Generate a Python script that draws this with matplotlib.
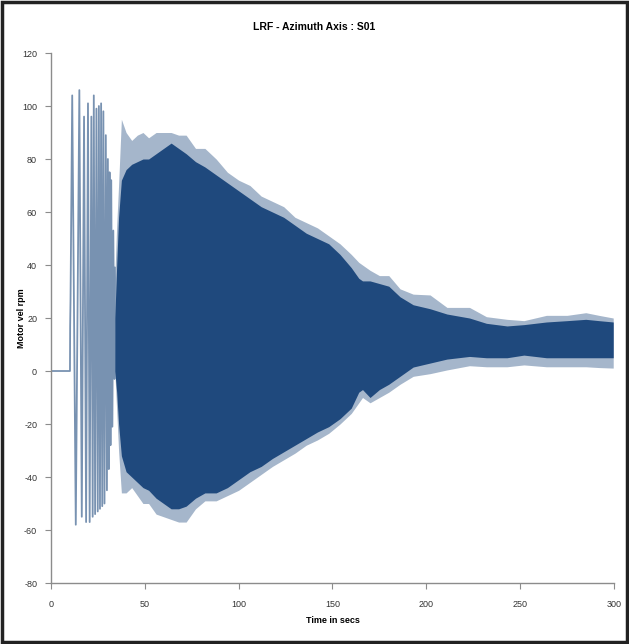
import numpy as np
import matplotlib.pyplot as plt
from matplotlib.patches import Rectangle

plt.rcParams['font.family'] = ['Liberation Sans', 'DejaVu Sans']
plt.rcParams['axes.unicode_minus'] = False

# start-up part: flat, then single swings (time s, rpm)
t_early = [0, 10.1, 10.2, 10.4, 11.3, 13.2, 15.1, 16.4, 17.6, 18.7, 19.7, 20.6, 21.5, 22.2,
           22.8, 23.5, 24.2, 24.9, 25.5, 26.1, 26.7, 27.3, 27.9, 28.5, 29.2, 29.8, 30.3,
           30.8, 31.2, 31.7, 32.1, 32.7, 33.2, 33.8, 34.0]
v_early = [0, 0, 17, 27, 104, -58, 106, -55, 96, -57, 101, -57, 96, -55,
           104, -54, 99, -53, 100, -52, 101, -51, 98, -50, 89, -45, 80,
           -37, 75, -28, 72, -21, 53, -3, 39]

# dense part: envelopes
t_env = [34.0, 35.0, 36.0, 37.5, 40, 43, 46, 49, 52, 56, 60, 64, 68, 72, 77, 82, 88, 94,
         100, 106, 112, 118, 124, 130, 136, 142, 148, 154, 160, 164, 166, 170, 175, 180,
         186, 193, 202, 211, 223, 232, 243, 252, 264, 275, 285, 292, 299.6]
up_outer = [35, 55, 70, 95, 90, 87, 89, 90, 88, 90, 90, 90, 89, 89, 84, 84, 80, 75,
            72, 70, 66, 64, 62, 58, 56, 54, 51, 48, 44, 41, 40, 38, 36, 36,
            31, 29, 28.7, 24, 24, 20.5, 19.5, 19, 21, 21, 22, 21, 20]
up_core = [20, 40, 58, 72, 76, 78, 79, 80, 80, 82, 84, 86, 84, 82, 79, 77, 74, 71,
           68, 65, 62, 60, 58, 55, 52, 50, 48, 44, 39, 35, 34, 34, 33, 32,
           28, 25, 23.5, 21.5, 20, 18, 17, 17.5, 18.5, 19, 19.5, 19, 18.5]
lo_core = [0, -8, -20, -32, -38, -40, -42, -44, -45, -48, -50, -52, -52, -51, -48, -46, -46, -44,
           -41, -38, -36, -33, -30.5, -28, -25.5, -23, -21, -18, -14, -8, -7, -10, -7, -5,
           -2, 1.5, 3, 4.5, 5.5, 5, 5, 6, 5, 5, 5, 5, 5]
lo_outer = [0, -15, -30, -46, -46, -44, -47, -50, -50, -54, -55, -56, -57, -57, -52, -49, -49, -47,
            -45, -42, -39, -36, -33.5, -31, -28, -26, -23.5, -20, -16, -12, -10, -12, -10, -8,
            -5, -2, -1, 0.4, 2, 1.6, 1.6, 2.3, 1.6, 1.6, 1.6, 1.3, 1.1]

navy = '#1f497d'
grey = '#8c8c8c'

fig = plt.figure(figsize=(6.29, 6.44), dpi=100)
ax = fig.add_axes([0.0811, 0.0947, 0.895, 0.823])

ax.plot(t_early, v_early, color=navy, lw=1.3, alpha=0.6)
ax.fill_between(t_env, lo_outer, up_outer, color=navy, alpha=0.4, lw=0)
ax.fill_between(t_env, lo_core, up_core, color=navy, lw=0)

ax.set_xlim(0, 300)
ax.set_ylim(-80, 120)
ax.set_xticks(np.arange(0, 301, 50))
ax.set_yticks(np.arange(-80, 121, 20))
for s in ['top', 'right']:
    ax.spines[s].set_visible(False)
for s in ['left', 'bottom']:
    ax.spines[s].set_color(grey)
    ax.spines[s].set_linewidth(1)
ax.tick_params(direction='out', length=4, color=grey, labelsize=6.5, labelcolor='#333333')
ax.tick_params(axis='x', pad=8)
ax.tick_params(axis='y', pad=6)

fig.text(0.5, 0.958, 'LRF - Azimuth Axis : S01', ha='center', va='center',
         fontsize=7.5, fontweight='bold')
fig.text(0.034, 0.506, 'Motor vel rpm', ha='center', va='center', rotation=90,
         fontsize=6.5, fontweight='bold')
fig.text(0.529, 0.037, 'Time in secs', ha='center', va='center',
         fontsize=6.5, fontweight='bold')

fig.patches.append(Rectangle((0.003, 0.003), 0.994, 0.994, transform=fig.transFigure,
                             fill=False, edgecolor='#222222', lw=2.5))

fig.savefig('out.png', dpi=100)
